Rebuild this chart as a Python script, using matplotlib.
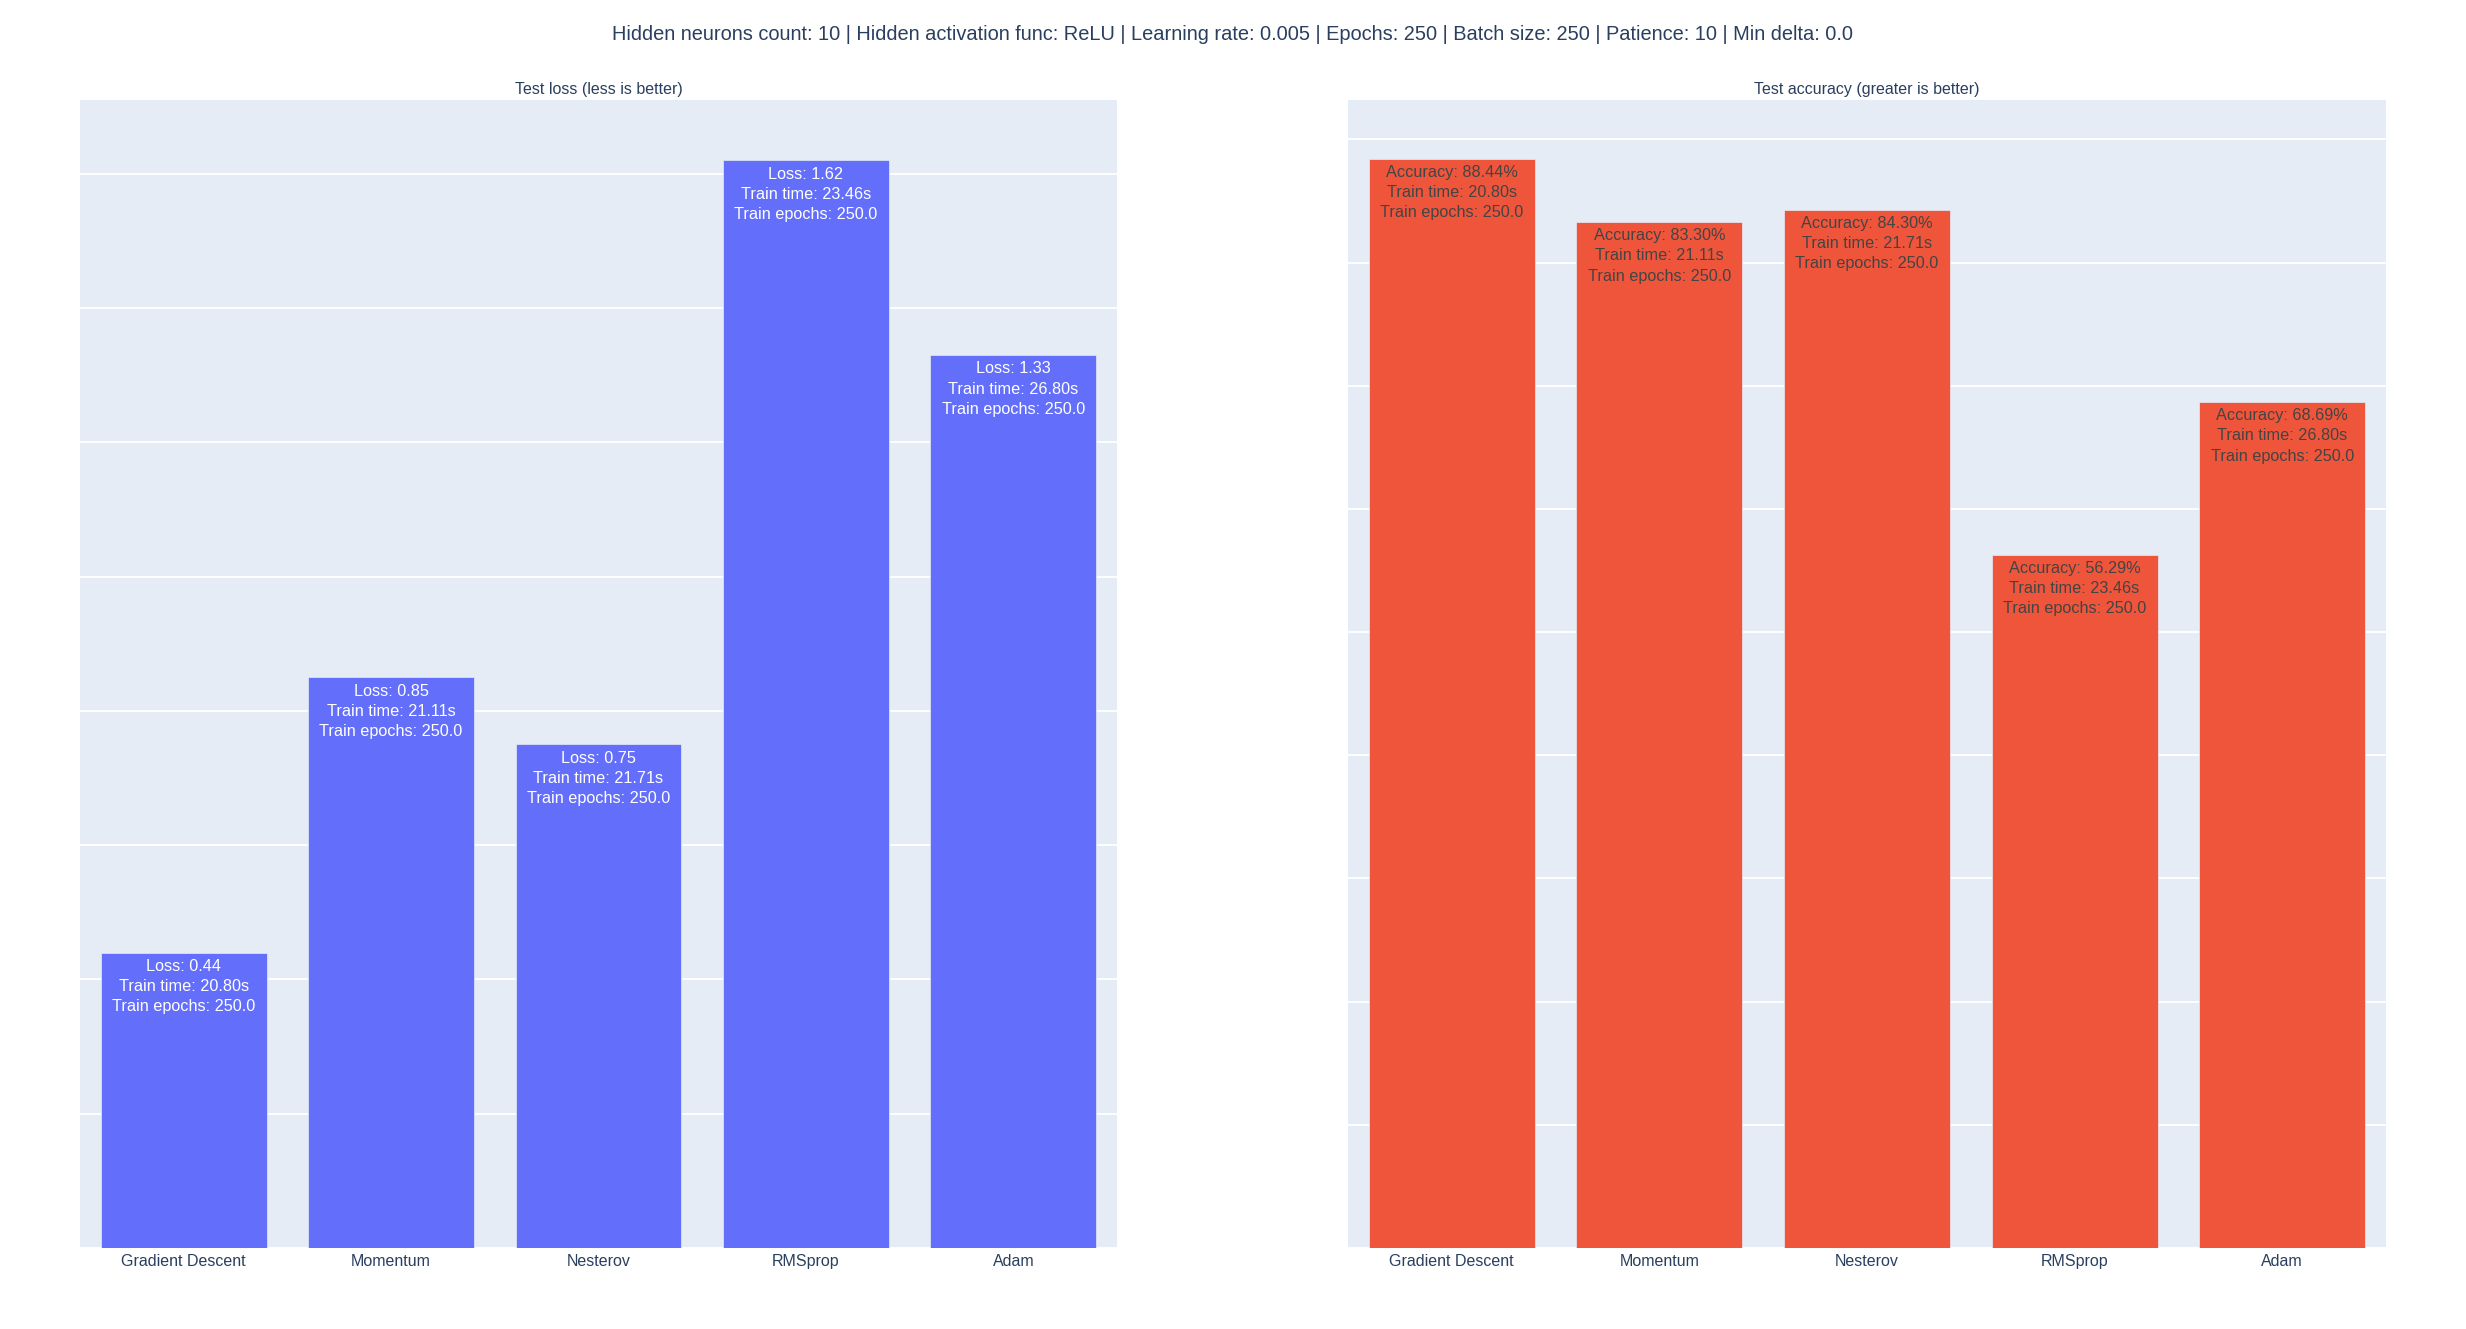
import matplotlib.pyplot as plt

optimizers = ["Gradient Descent", "Momentum", "Nesterov", "RMSprop", "Adam"]
test_loss = [0.44, 0.85, 0.75, 1.62, 1.33]
test_accuracy = [88.44, 83.30, 84.30, 56.29, 68.69]
train_time = [20.80, 21.11, 21.71, 23.46, 26.80]
train_epochs = [250.0, 250.0, 250.0, 250.0, 250.0]

title = ("Hidden neurons count: 10 | Hidden activation func: ReLU | Learning rate: 0.005 | "
         "Epochs: 250 | Batch size: 250 | Patience: 10 | Min delta: 0.0")

plt.rcParams["font.family"] = ["Liberation Sans", "DejaVu Sans"]
W, H = 2466, 1329
fig = plt.figure(figsize=(W / 100, H / 100), dpi=100)

def add_axes(x0, x1, y0=100, y1=1248):
    return fig.add_axes([x0 / W, 1 - y1 / H, (x1 - x0) / W, (y1 - y0) / H])

def style(ax, top, step):
    ax.set_facecolor("#E5ECF6")
    for s in ax.spines.values():
        s.set_visible(False)
    ax.set_xlim(-0.5, len(optimizers) - 0.5)
    ax.set_ylim(0, top)
    ticks = [i * step for i in range(int(top / step) + 1)]
    ax.set_yticks(ticks)
    ax.set_yticklabels([])
    ax.grid(axis="y", color="white", linewidth=1.3)
    ax.set_axisbelow(True)
    ax.tick_params(axis="both", length=0, labelsize=11.5, labelcolor="#2a3f5f", pad=4)

ax1 = add_axes(80, 1117)
ax2 = add_axes(1348, 2386)

bars1 = ax1.bar(optimizers, test_loss, width=0.8, color="#636EFA",
                edgecolor="#E5ECF6", linewidth=0.5)
bars2 = ax2.bar(optimizers, test_accuracy, width=0.8, color="#EF553B",
                edgecolor="#E5ECF6", linewidth=0.5)
style(ax1, 1.71, 0.2)
style(ax2, 93.2, 10)

for i, bar in enumerate(bars1):
    ax1.annotate(f"Loss: {test_loss[i]:.2f}\nTrain time: {train_time[i]:.2f}s\nTrain epochs: {train_epochs[i]:.1f}",
                 (bar.get_x() + bar.get_width() / 2, bar.get_height()),
                 xytext=(0, -4.5), textcoords="offset points", ha="center", va="top",
                 fontsize=11.7, color="white", linespacing=1.44)
for i, bar in enumerate(bars2):
    ax2.annotate(f"Accuracy: {test_accuracy[i]:.2f}%\nTrain time: {train_time[i]:.2f}s\nTrain epochs: {train_epochs[i]:.1f}",
                 (bar.get_x() + bar.get_width() / 2, bar.get_height()),
                 xytext=(0, -4.5), textcoords="offset points", ha="center", va="top",
                 fontsize=11.7, color="#444444", linespacing=1.44)

ax1.set_title("Test loss (less is better)", fontsize=11.5, color="#2a3f5f", pad=4)
ax2.set_title("Test accuracy (greater is better)", fontsize=11.5, color="#2a3f5f", pad=4)
fig.text(0.5, 1 - 35 / H, title, ha="center", va="center", fontsize=14.4, color="#2a3f5f")

fig.savefig("out.png", dpi=100, facecolor="white")
